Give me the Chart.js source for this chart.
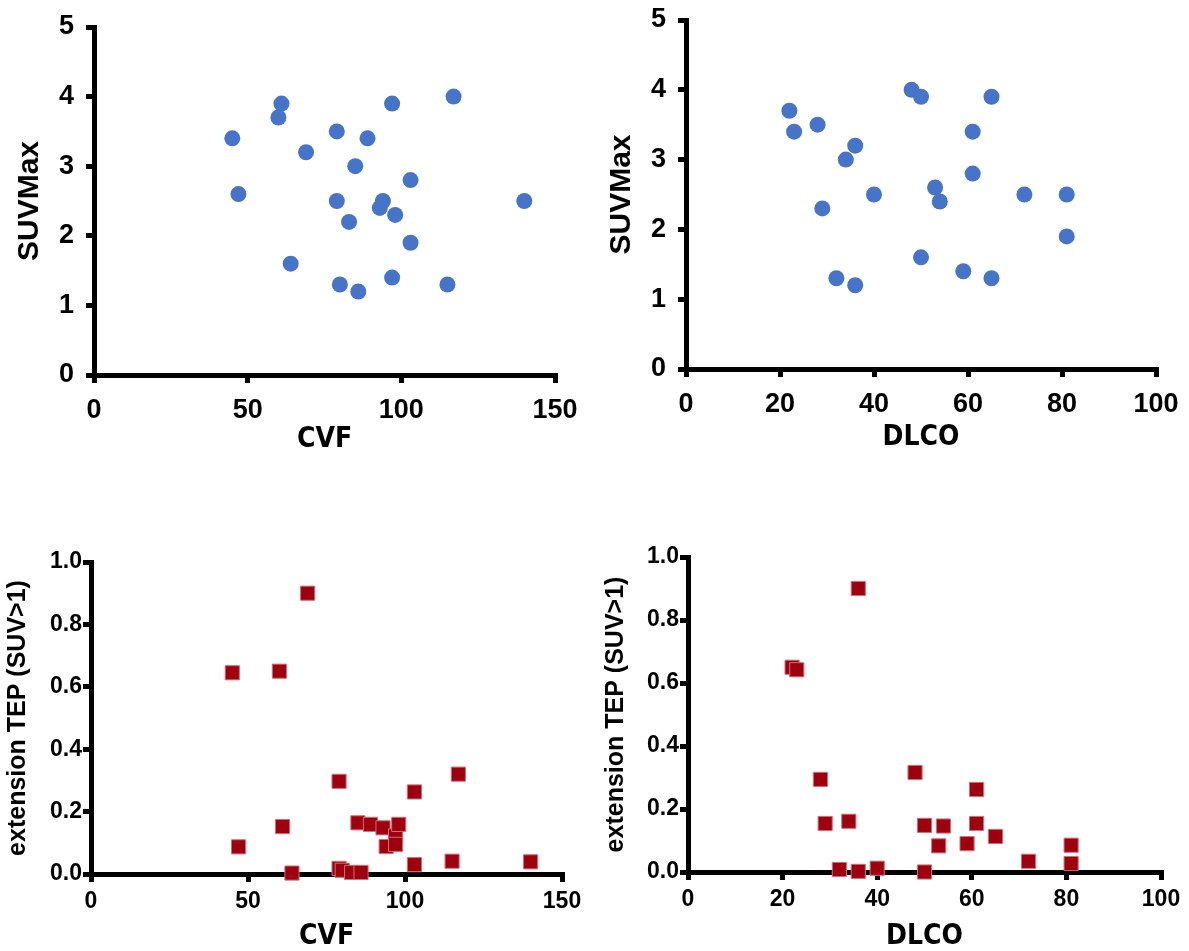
<!DOCTYPE html>
<html>
<head>
<meta charset="utf-8">
<script src="https://cdn.jsdelivr.net/npm/chart.js@4.4.1/dist/chart.umd.min.js"></script>
<style>
html,body{margin:0;padding:0;background:#fff;width:1189px;height:951px;overflow:hidden;}
canvas{position:absolute;}
</style>
</head>
<body>
<canvas id="c1" style="left:0px;top:0px;width:594px;height:475px" width="594" height="475"></canvas>
<canvas id="c2" style="left:594px;top:0px;width:595px;height:475px" width="595" height="475"></canvas>
<canvas id="c3" style="left:0px;top:475px;width:594px;height:476px" width="594" height="476"></canvas>
<canvas id="c4" style="left:594px;top:475px;width:595px;height:476px" width="595" height="476"></canvas>
<script>
// ---- data ----
const cvfSuvX = [45,47,61,60,64,69,79,79,80,83,85,86,89,93,94,97,97,98,103,103,115,117,140];
const cvfSuvY = [3.4,2.6,3.9,3.7,1.6,3.2,3.5,2.5,1.3,2.2,3.0,1.2,3.4,2.4,2.5,3.9,1.4,2.3,2.8,1.9,1.3,4.0,2.5];

const dlcoSuvX = [22,23,28,29,32,34,36,36,40,48,50,50,53,54,59,61,61,65,65,72,81,81];
const dlcoSuvY = [3.7,3.4,3.5,2.3,1.3,3.0,3.2,1.2,2.5,4.0,3.9,1.6,2.6,2.4,1.4,3.4,2.8,3.9,1.3,2.5,2.5,1.9];

const cvfExtX = [45,47,60,61,64,69,79,79,80,83,85,86,89,93,94,97,97,98,103,103,115,117,140];
const cvfExtY = [0.645,0.087,0.65,0.152,0.003,0.90,0.297,0.018,0.012,0.005,0.164,0.005,0.159,0.148,0.088,0.122,0.095,0.159,0.263,0.030,0.041,0.320,0.039];

const dlcoExtX = [22,23,28,29,32,34,36,36,40,48,50,50,53,54,59,61,61,65,72,81,81];
const dlcoExtY = [0.65,0.642,0.294,0.154,0.008,0.161,0.90,0.002,0.012,0.316,0.148,0.0,0.083,0.146,0.09,0.262,0.154,0.113,0.034,0.085,0.027];

const cvfTicks = [0,50,100,150];
const dlcoTicks = [0,20,40,60,80,100];
const suvTicks = [0,1,2,3,4,5];
const extTicks = [0,0.2,0.4,0.6,0.8,1.0];

const xTitleCVF = 'CVF';
const xTitleDLCO = 'DLCO';
const yTitleSUV = 'SUVMax';
const yTitleExt = 'extension TEP (SUV>1)';

// ---- helpers ----
function pts(xs, ys){ return xs.map((x,i)=>({x:x, y:ys[i]})); }

function makeChart(id, cfg){
  const ctx = document.getElementById(id);
  const tickVals = cfg.xTicks, yVals = cfg.yTicks;
  new Chart(ctx, {
    type:'scatter',
    data:{datasets:[{
      data: pts(cfg.xs, cfg.ys),
      pointStyle: cfg.style,
      pointRadius: cfg.radius,
      pointHoverRadius: cfg.radius,
      backgroundColor: cfg.color,
      borderColor: cfg.border,
      borderWidth: cfg.bw,
      clip: false
    }]},
    options:{
      responsive:false,
      animation:false,
      events:[],
      layout:{padding:cfg.pad},
      plugins:{legend:{display:false}, tooltip:{enabled:false}},
      scales:{
        x:{
          type:'linear',
          min: tickVals[0], max: tickVals[tickVals.length-1],
          afterBuildTicks: s => { s.ticks = tickVals.map(v=>({value:v})); },
          afterFit: s => { s.height = cfg.xh; s.paddingLeft=0; s.paddingRight=0; },
          grid:{display:true, drawOnChartArea:false, drawTicks:true, tickLength:8, lineWidth:5, color:'#000'},
          border:{display:true, width:5, color:'#000'},
          ticks:{color:'#000', padding:cfg.xtp, maxRotation:0, font:cfg.tickFont},
          title:{display:true, text:cfg.xTitle, color:'#000', font:cfg.xTitleFont, padding:{top:0,bottom:cfg.xTitlePad}}
        },
        y:{
          type:'linear',
          min: yVals[0], max: yVals[yVals.length-1],
          afterBuildTicks: s => { s.ticks = yVals.map(v=>({value:v})); },
          afterFit: s => { s.width = cfg.yw; s.paddingTop=0; s.paddingBottom=0; },
          grid:{display:true, drawOnChartArea:false, drawTicks:true, tickLength:8, lineWidth:5, color:'#000'},
          border:{display:true, width:5, color:'#000'},
          ticks:{color:'#000', padding:cfg.ytp, font:cfg.tickFont, callback: v => cfg.yFmt(v)},
          title:{display:true, text:cfg.yTitle, color:'#000', font:cfg.yTitleFont, padding:{top:cfg.yTitlePad,bottom:0}}
        }
      }
    }
  });
}

const topTickFont = {family:"'Liberation Sans', Arial, sans-serif", size:27, weight:'bold'};
const botTickFont = {family:"'Liberation Sans', Arial, sans-serif", size:23, weight:'bold'};
const xTitleFont = {family:"'Liberation Sans Narrow', 'DejaVu Sans Condensed', sans-serif", size:28, weight:'bold', lineHeight:1};
const topYTitleFont = {family:"'Liberation Sans', Arial, sans-serif", size:30, weight:'bold', lineHeight:1};
const botYTitleFont = {family:"'Liberation Sans', Arial, sans-serif", size:25, weight:'bold', lineHeight:1};

const blue = '#4674c8';
const red = '#9e0010';

makeChart('c1', {xs:cvfSuvX, ys:cvfSuvY, style:'circle', radius:8, color:blue, border:blue, bw:0,
  pad:{top:27,right:39,left:0,bottom:0}, yw:94, xh:100, xTicks:cvfTicks, yTicks:suvTicks,
  tickFont:topTickFont, xtp:11, ytp:12, xTitle:xTitleCVF, yTitle:yTitleSUV,
  xTitleFont:xTitleFont, yTitleFont:topYTitleFont, xTitlePad:21, yTitlePad:15, yFmt:v=>String(v)});

makeChart('c2', {xs:dlcoSuvX, ys:dlcoSuvY, style:'circle', radius:8, color:blue, border:blue, bw:0,
  pad:{top:20,right:33,left:0,bottom:0}, yw:92, xh:106, xTicks:dlcoTicks, yTicks:suvTicks,
  tickFont:topTickFont, xtp:11, ytp:12, xTitle:xTitleDLCO, yTitle:yTitleSUV,
  xTitleFont:xTitleFont, yTitleFont:topYTitleFont, xTitlePad:23, yTitlePad:13, yFmt:v=>String(v)});

makeChart('c3', {xs:cvfExtX, ys:cvfExtY, style:'rect', radius:10, color:red, border:'#d07070', bw:1,
  pad:{top:87,right:32,left:0,bottom:0}, yw:91, xh:77, xTicks:cvfTicks, yTicks:extTicks,
  tickFont:botTickFont, xtp:6, ytp:1, xTitle:xTitleCVF, yTitle:yTitleExt,
  xTitleFont:xTitleFont, yTitleFont:botYTitleFont, xTitlePad:0, yTitlePad:6, yFmt:v=>v.toFixed(1)});

makeChart('c4', {xs:dlcoExtX, ys:dlcoExtY, style:'rect', radius:10, color:red, border:'#d07070', bw:1,
  pad:{top:82,right:28,left:0,bottom:0}, yw:94, xh:79, xTicks:dlcoTicks, yTicks:extTicks,
  tickFont:botTickFont, xtp:6, ytp:1, xTitle:xTitleDLCO, yTitle:yTitleExt,
  xTitleFont:xTitleFont, yTitleFont:botYTitleFont, xTitlePad:0, yTitlePad:10, yFmt:v=>v.toFixed(1)});
</script>
</body>
</html>
